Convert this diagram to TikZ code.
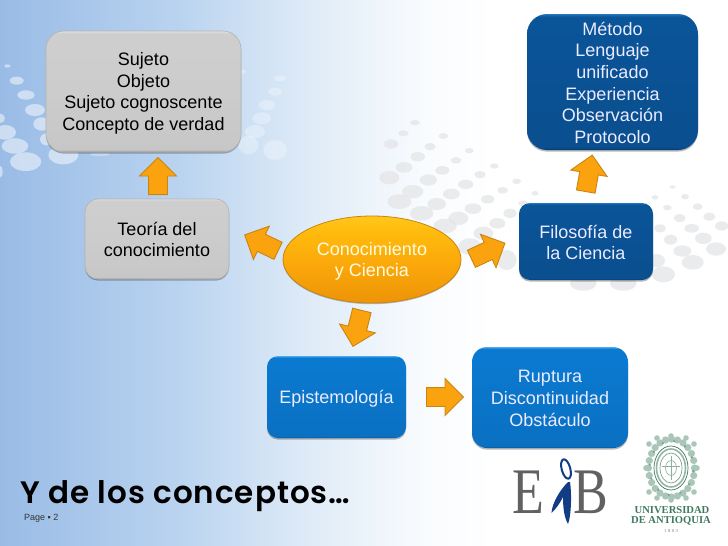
\documentclass[tikz,border=0pt]{standalone}
\usepackage{fontspec}
\usetikzlibrary{shapes.geometric,shapes.arrows,shadows}
\setmainfont{Liberation Sans}
\newfontfamily\serifrm{Liberation Serif}
\newfontfamily\titlefont[LetterSpace=3.2]{Poppins SemiBold}
\newcommand\upfix[1]{\rule{0pt}{#1pt}}
\definecolor{arrfill}{HTML}{FBA30E}
\definecolor{arredge}{HTML}{C98512}
\definecolor{dotgray}{HTML}{E4E5E7}
\definecolor{crest}{HTML}{3F7A5F}
\definecolor{crestl}{HTML}{A9C6B8}
\definecolor{eibblue}{HTML}{123C85}
\pgfdeclarehorizontalshading{bgshade}{100bp}{
  rgb(0bp)=(0.60,0.735,0.90);
  rgb(25bp)=(0.60,0.735,0.90);
  rgb(37.5bp)=(0.73,0.83,0.94);
  rgb(46bp)=(0.87,0.92,0.97);
  rgb(54bp)=(0.975,0.985,0.995);
  rgb(59bp)=(1,1,1);
  rgb(100bp)=(1,1,1)}
\pgfdeclareverticalshading{grayshade}{100bp}{
  rgb(0bp)=(0.60,0.60,0.60);
  rgb(25bp)=(0.60,0.60,0.60);
  rgb(26bp)=(0.78,0.78,0.78);
  rgb(50bp)=(0.80,0.80,0.80);
  rgb(74bp)=(0.81,0.81,0.81);
  rgb(75bp)=(0.88,0.88,0.88);
  rgb(100bp)=(0.88,0.88,0.88)}
\pgfdeclareverticalshading{darkshade}{100bp}{
  rgb(0bp)=(0.02,0.22,0.42);
  rgb(25bp)=(0.02,0.22,0.42);
  rgb(26bp)=(0.04,0.31,0.56);
  rgb(74bp)=(0.04,0.33,0.60);
  rgb(75bp)=(0.14,0.46,0.74);
  rgb(100bp)=(0.14,0.46,0.74)}
\pgfdeclareverticalshading{midshade}{100bp}{
  rgb(0bp)=(0.03,0.33,0.60);
  rgb(25bp)=(0.03,0.33,0.60);
  rgb(26bp)=(0.04,0.44,0.76);
  rgb(74bp)=(0.04,0.48,0.82);
  rgb(75bp)=(0.30,0.66,0.92);
  rgb(100bp)=(0.30,0.66,0.92)}
\pgfdeclareverticalshading{ellshade}{100bp}{
  rgb(0bp)=(0.93,0.58,0.03);
  rgb(25bp)=(0.93,0.58,0.03);
  rgb(45bp)=(0.98,0.65,0.04);
  rgb(65bp)=(1.0,0.73,0.05);
  rgb(75bp)=(1.0,0.78,0.10);
  rgb(100bp)=(1.0,0.78,0.10)}
\tikzset{
  boxbase/.style={rectangle,inner sep=0pt,align=center,
    font=\fontsize{18}{21.7}\selectfont,
    general shadow={shadow xshift=0pt,shadow yshift=-1.6pt,fill=black,opacity=.28}},
  graybox/.style={boxbase,shading=grayshade,draw=black!30,line width=.6pt,text=black},
  darkbox/.style={boxbase,shading=darkshade,text=white!92!blue},
  midbox/.style={boxbase,shading=midshade,text=white!92!blue},
  blockarrow/.style={single arrow,inner sep=0pt,minimum height=37pt,anchor=tail,
    single arrow head extend=9pt,fill=arrfill,draw=arredge,line width=.9pt}
}
\begin{document}
\begin{tikzpicture}[x=1pt,y=-1pt]
\useasboundingbox (0,0) rectangle (728,546);
\shade[shading=bgshade] (0,0) rectangle (728,546);
% grey dots
\foreach \a/\b/\c/\d in {105/98/15/8,70/130/16/9,33/162/22/14,190/138/14/9,150/170/17/11,113/200/22/14,72/232/25/16,28/263/30/20,268/182/13/8,228/211/16/10,187/241/21/13,145/270/26/17,98/305/32/20,58/335/36/22,343/228/13/8,300/254/17/11,257/283/23/14,214/312/25/16,170/342/28/18,125/370/35/22,410/274/13/8,368/301/16/10,323/328/20/13,279/356/25/16,235/385/30/20,195/408/35/22,465/310/11/7,430/340/15/9,390/370/20/14,352/400/24/16,310/430/30/20,270/470/35/25,380/510/30/30,878/291/9/5,825/322/10/7,915/320/12/8,862/353/13/8,953/350/15/10,899/384/18/12,988/380/18/12,935/415/22/13,1025/408/20/14,872/449/20/15,970/445/25/17,840/415/18/12,907/483/27/17,1008/477/30/20,938/517/33/22,830/512/25/20,850/553/35/24,730/580/40/22,610/580/40/22}
  \fill[dotgray,opacity=.75] ({380+\a/3},{90+\b/3}) ellipse ({\c/3} and {\d/3});
% white dots, left
\foreach \a/\b/\c/\d in {22/48/9/5,50/92/21/12,78/135/26/14,105/180/30/18,125/222/25/20,15/247/33/22,45/288/40/23,77/335/47/28,190/315/45/28,0/205/15/14,140/268/20/18,0/365/8/18}
  \fill[white,opacity=.5] ({\a/3},{50+\b/3}) ellipse ({\c/3} and {\d/3});
\foreach \a/\b/\c/\d in {745/435/30/28,825/450/35/30,785/355/28/18,800/315/25/15,825/275/20/12,840/235/17/9,730/215/8/6,765/395/30/20,300/463/30/5}
  \fill[white,opacity=.3] ({\a/3},{\b/3}) ellipse ({\c/3} and {\d/3});
% boxes
\node[graybox,minimum width=195pt,minimum height=121pt,rounded corners=18pt] (sujeto) at (143.5,91.5) {\upfix{17}Sujeto\\Objeto\\Sujeto cognoscente\\Concepto de verdad};
\node[graybox,minimum width=144pt,minimum height=80pt,rounded corners=13pt] (teoria) at (157,239) {\upfix{14}Teoría del\\conocimiento};
\node[darkbox,minimum width=171pt,minimum height=136pt,rounded corners=20pt] (metodo) at (612.5,82) {\upfix{15}Método\\Lenguaje\\unificado\\Experiencia\\Observación\\Protocolo};
\node[darkbox,minimum width=134pt,minimum height=77pt,rounded corners=11pt] (filosofia) at (586,241.5) {\upfix{15}Filosofía de\\la Ciencia};
\node[midbox,minimum width=139pt,minimum height=82pt,rounded corners=11pt] (episte) at (336.5,397) {\upfix{17}Epistemología};
\node[midbox,minimum width=156pt,minimum height=101pt,rounded corners=15pt] (ruptura) at (550,397.5) {\upfix{14}Ruptura\\Discontinuidad\\Obstáculo};
\node[ellipse,inner sep=0pt,minimum width=178pt,minimum height=87pt,shading=ellshade,draw=arredge,line width=.8pt,align=center,
  font=\fontsize{18}{21.7}\selectfont,text=white!88!yellow,
  general shadow={shadow xshift=0pt,shadow yshift=-1.2pt,fill=black,opacity=.25}] (centro) at (372,259.5) {\upfix{17}Conocimiento\\y Ciencia};
% block arrows
\node[blockarrow,rotate=90] (a1) at (158,195) {\rule{0pt}{18pt}};
\node[blockarrow,rotate=154.5] (a2) at (278.5,251) {\rule{0pt}{18pt}};
\node[blockarrow,rotate=25] (a3) at (471,259) {\rule{0pt}{18pt}};
\node[blockarrow,rotate=-104] (a4) at (362,310) {\rule{0pt}{18pt}};
\node[blockarrow,rotate=0] (a5) at (426,397) {\rule{0pt}{18pt}};
\node[blockarrow,rotate=80] (a6) at (585.7,192) {\rule{0pt}{18pt}};
% title
\node[anchor=base west,inner sep=0pt,font=\titlefont\fontsize{31}{31}\selectfont] (titulo) at (20,503) {Y de los conceptos…};
\node[anchor=base west,inner sep=0pt,font=\fontsize{9}{9}\selectfont,text=black!80] (pagina) at (24,520) {Page ▪ 2};
% EiB logo
\node[anchor=base,inner sep=0pt,xscale=.8,font=\serifrm\fontsize{65}{65}\selectfont,text=black!62] (logoe) at (528,513) {E};
\node[anchor=base,inner sep=0pt,xscale=.8,font=\serifrm\fontsize{65}{65}\selectfont,text=black!62] (logob) at (591,513) {B};
\draw[eibblue,line width=2pt,rotate around={15:(566,469)}] (566,469) ellipse (4.3 and 10);
\fill[eibblue] (568,482) .. controls (560,490) and (552,503) .. (551.5,513) .. controls (556,509) and (560,503) .. (563,497) .. controls (563,507) and (564,517) .. (568,524) .. controls (571,517) and (572,495) .. (570,482) -- cycle;
% crest
\foreach \t in {0,15,...,345}
  \fill[crestl] ({671.5+23*cos(\t)},{468+29*sin(\t)}) circle (3.6);
\foreach \t in {7,37,...,367}
  \fill[crest!70] ({671.5+22*cos(\t)},{468+27*sin(\t)}) circle (1.2);
\foreach \p/\q in {649/444,694/444,649/492,694/492,671/436,671/500,657/438,686/438,657/498,686/498,646/468,697/468}
  \fill[crestl] (\p,\q) circle (2.8);
\fill[white] (671,468) ellipse (18 and 23);
\draw[crest,line width=.7pt] (671,468) ellipse (17 and 22);
\draw[crest!55,line width=1.6pt] (671,468) ellipse (14.5 and 19);
\draw[crest!70,line width=.7pt] (671,468) ellipse (11 and 15);
\draw[crest!60,line width=.7pt] (671,456) -- (671,480) (662,466) -- (680,466);
\draw[crest!60,line width=.6pt] (671,468) ellipse (5.5 and 7.5);
\node[inner sep=0pt,font=\serifrm\bfseries\fontsize{10.6}{10.6}\selectfont,text=crest] (ude1) at (672,510) {UNIVERSIDAD};
\node[inner sep=0pt,font=\serifrm\bfseries\fontsize{10.6}{10.6}\selectfont,text=crest] (ude2) at (671,521) {DE ANTIOQUIA};
\node[inner sep=0pt,font=\serifrm\fontsize{4.5}{4.5}\selectfont,text=black!55] (ude3) at (671,531) {1\,\,8\,\,0\,\,3};
\end{tikzpicture}
\end{document}
